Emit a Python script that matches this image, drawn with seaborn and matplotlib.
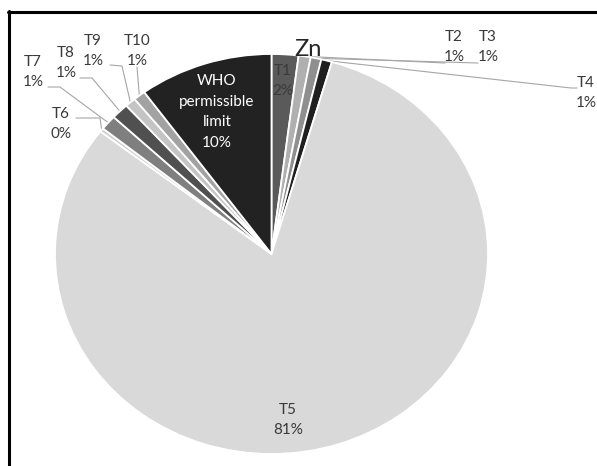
import numpy as np
import matplotlib
matplotlib.use("Agg")
import matplotlib.pyplot as plt
from matplotlib.lines import Line2D
import seaborn as sns

# Zn share per sampling point plus the WHO permissible limit (percent of total)
categories = ["T1", "T2", "T3", "T4", "T5", "T6", "T7", "T8", "T9", "T10",
              "WHO\npermissible\nlimit"]
shares = [2.0, 0.9, 0.8, 0.8, 81.0, 0.3, 1.2, 1.3, 0.8, 0.9, 10.0]
title = "Zn"

# grey-scale slice colours
colors = ["#5a5a5a", "#b0b0b0", "#8f8f8f", "#1f1f1f", "#d9d9d9", "#d0d0d0",
          "#7f7f7f", "#505050", "#c4c4c4", "#a2a2a2", "#222222"]

sns.set_theme(style="white")
plt.rcParams["font.family"] = ["Lato", "DejaVu Sans"]

W, H = 597, 466
fig = plt.figure(figsize=(W / 100, H / 100), dpi=100)
fig.patch.set_facecolor("white")

# pie centre and radii in pixels (slightly wider than tall)
cx, cy, rx, ry = 271.5, 254.0, 216.5, 200.0
ax = fig.add_axes([(cx - rx) / W, (H - (cy + ry)) / H, 2 * rx / W, 2 * ry / H])

wedges, _ = ax.pie(shares, colors=colors, startangle=90, counterclock=False,
                   wedgeprops=dict(edgecolor="white", linewidth=1.3))
ax.set_aspect("auto")
ax.set_xlim(-1, 1)
ax.set_ylim(-1, 1)
ax.axis("off")


def px(x, y):
    """pixel position -> data coordinates of the pie axes"""
    return (x - cx) / rx, (cy - y) / ry


# label block centres (pixels)
label_pos = [(283, 81), (454, 47), (488, 47), (586, 93), (288, 420), (61, 124),
             (33, 72), (66, 63), (93, 51), (137, 51), (217, 112)]
# leader lines: (elbow, end) in pixels, None where the label sits on the slice
leaders = [None, ((445, 63), (445, 63)), ((478, 63), (478, 63)),
           ((571, 88), (577, 88)), None, ((100, 118), (76, 118)),
           ((60, 87), (48, 87)), ((92, 78), (80, 78)), ((122, 66), (110, 65)),
           ((137, 67), (137, 67)), None]

total = sum(shares)
for i, (w, name, v) in enumerate(zip(wedges, categories, shares)):
    pct = f"{round(v / total * 100):.0f}%"
    tx, ty = px(*label_pos[i])
    txt_color = "white" if i == len(shares) - 1 else "#3a3a3a"
    ax.text(tx, ty, f"{name}\n{pct}", ha="center", va="center", fontsize=11,
            color=txt_color, linespacing=1.6, clip_on=False)
    if leaders[i] is not None:
        mid = np.deg2rad((w.theta1 + w.theta2) / 2)
        ex, ey = np.cos(mid), np.sin(mid)
        (bx, by), (fx, fy) = px(*leaders[i][0]), px(*leaders[i][1])
        ax.plot([ex, bx, fx], [ey, by, fy], color="#a6a6a6", lw=0.8,
                clip_on=False, zorder=0.5)

ax.text(*px(308, 50), title, ha="center", va="center", fontsize=17,
        color="#262626", clip_on=False)

# frame lines along the top and left edge
fig.add_artist(Line2D([8 / W, 1], [1 - 12 / H, 1 - 12 / H], color="black", lw=2.2))
fig.add_artist(Line2D([9 / W, 9 / W], [0, 1 - 11 / H], color="black", lw=2.2))

fig.savefig("out.png", dpi=100)
